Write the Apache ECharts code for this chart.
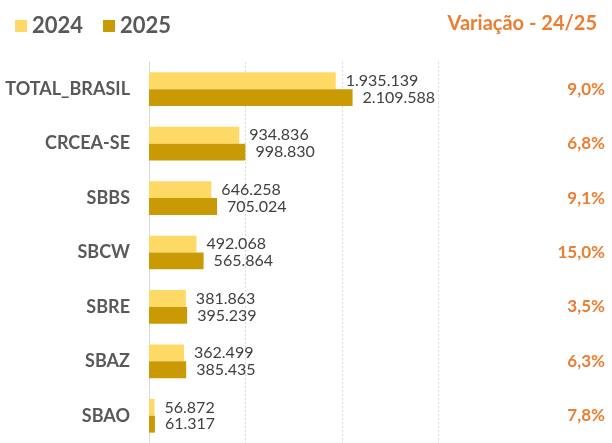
<!DOCTYPE html>
<html>
<head>
<meta charset="utf-8">
<script src="https://cdn.jsdelivr.net/npm/echarts@6/dist/echarts.min.js"></script>
<style>
  html, body { margin: 0; padding: 0; background: #fff; }
  #chart { width: 612px; height: 443px; }
</style>
</head>
<body>
<div id="chart"></div>
<script>
const categories = ['TOTAL_BRASIL', 'CRCEA-SE', 'SBBS', 'SBCW', 'SBRE', 'SBAZ', 'SBAO']
const values2024 = [1935139, 934836, 646258, 492068, 381863, 362499, 56872]
const values2025 = [2109588, 998830, 705024, 565864, 395239, 385435, 61317]
const variacao = ['9,0%', '6,8%', '9,1%', '15,0%', '3,5%', '6,3%', '7,8%']

const FONT = 'Lato, "Noto Sans", sans-serif'

// 1234567 -> "1.234.567"
const fmt = (v) => String(v).replace(/\B(?=(\d{3})+(?!\d))/g, '.')

const chart = echarts.init(document.getElementById('chart'))

const barLabel = {
  show: true,
  position: 'right',
  distance: 10,
  fontFamily: FONT,
  fontSize: 16,
  color: '#404040',
  formatter: (p) => fmt(p.value)
}

chart.setOption({
  backgroundColor: '#fff',
  animation: false,
  title: {
    text: 'Variação - 24/25',
    right: 10, top: 9,
    textStyle: { fontFamily: FONT, fontSize: 20, fontWeight: 'bold', color: '#ED7D31' }
  },
  legend: {
    data: ['2024', '2025'],
    left: 10, top: 10,
    icon: 'rect',
    itemWidth: 12, itemHeight: 12,
    itemGap: 20,
    textStyle: { fontFamily: FONT, fontSize: 22, fontWeight: 'bold', color: '#595959' }
  },
  grid: { left: 149, right: 77, top: 62, height: 388.5 },
  xAxis: {
    type: 'value',
    min: 0, max: 4000000, interval: 1000000,
    axisLabel: { show: false },
    axisLine: { show: false },
    axisTick: { show: false },
    splitLine: {
      lineStyle: {
        color: ['transparent', '#DCDCDC', '#DCDCDC', '#DCDCDC', 'transparent'],
        type: [2, 2], width: 1
      }
    }
  },
  yAxis: [
    {
      type: 'category',
      data: categories,
      inverse: true,
      axisLine: { lineStyle: { color: '#D9D9D9', width: 1 } },
      axisTick: { show: false },
      axisLabel: {
        margin: 19,
        fontFamily: FONT, fontSize: 18, fontWeight: 'bold', color: '#595959'
      }
    },
    {
      type: 'category',
      data: variacao,
      inverse: true,
      position: 'right',
      axisLine: { show: false },
      axisTick: { show: false },
      axisLabel: {
        align: 'right',
        margin: 70,
        fontFamily: FONT, fontSize: 17, fontWeight: 'bold', color: '#ED7D31'
      }
    }
  ],
  series: [
    {
      name: '2024',
      type: 'bar',
      data: values2024,
      barGap: '0%',
      barCategoryGap: '38%',
      itemStyle: { color: '#FFD966' },
      label: barLabel
    },
    {
      name: '2025',
      type: 'bar',
      data: values2025,
      itemStyle: { color: '#C99A04' },
      label: barLabel
    }
  ]
})
</script>
</body>
</html>
